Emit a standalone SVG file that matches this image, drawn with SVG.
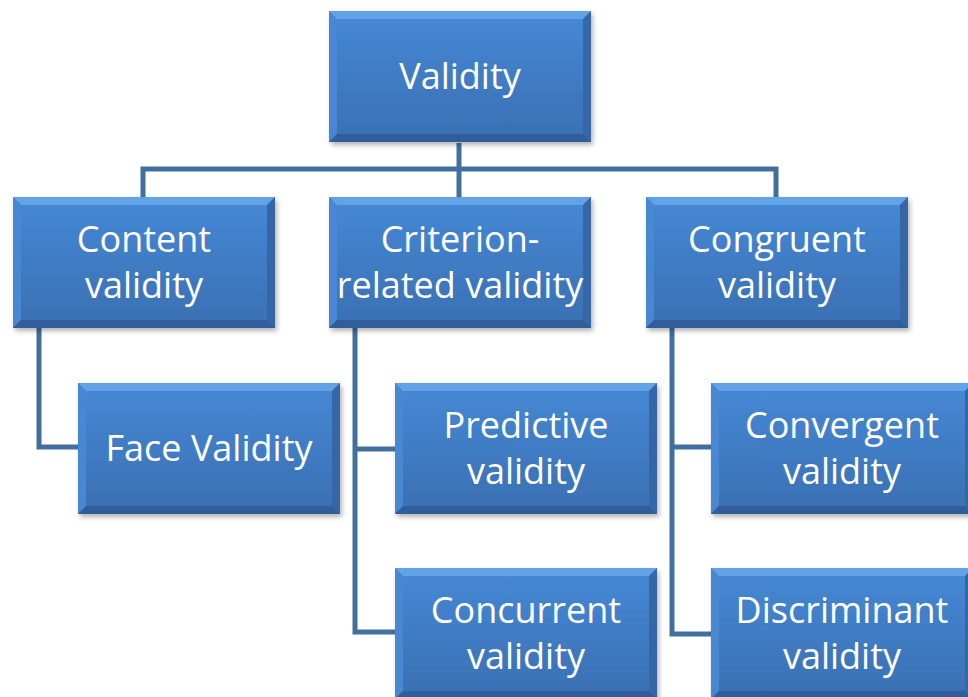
<svg xmlns="http://www.w3.org/2000/svg" xmlns:xlink="http://www.w3.org/1999/xlink" width="968" height="697" viewBox="0 0 968 697">
<style>
.lbl{font-family:"Open Sans","Liberation Sans",Arial,sans-serif;font-size:36px;fill:#ffffff;text-anchor:middle}
.conn{fill:none;stroke:#41709f;stroke-width:5;stroke-linejoin:miter}
</style>
<defs>
<linearGradient id="body" x1="0" y1="0" x2="0" y2="1">
<stop offset="0" stop-color="#4689d6"/>
<stop offset="1" stop-color="#3a6fb2"/>
</linearGradient>
<filter id="sh" x="-10%" y="-10%" width="125%" height="130%">
<feGaussianBlur in="SourceAlpha" stdDeviation="2.5"/>
<feOffset dx="2" dy="3" result="b"/>
<feComponentTransfer><feFuncA type="linear" slope="0.3"/></feComponentTransfer>
<feMerge><feMergeNode/><feMergeNode in="SourceGraphic"/></feMerge>
</filter>
<g id="box">
<rect x="0" y="0" width="262" height="131" fill="url(#body)" filter="url(#sh)"/>
<polygon points="0,0 262,0 254,8 8,8" fill="#62a2e6"/>
<polygon points="0,0 8,8 8,123 0,131" fill="#4888d3"/>
<polygon points="262,0 262,131 254,123 254,8" fill="#3566a6"/>
<polygon points="0,131 262,131 254,123 8,123" fill="#315e9a"/>
</g>
</defs>
<rect width="968" height="697" fill="#ffffff"/>
<g id="connectors">
<path class="conn" d="M143,197 V169 H776 V197"/>
<path class="conn" d="M459,143 V197"/>
<path class="conn" d="M39,328 V447 H78"/>
<path class="conn" d="M355,328 V632 H395"/>
<path class="conn" d="M355,449 H395"/>
<path class="conn" d="M672,328 V634 H711"/>
<path class="conn" d="M672,447 H711"/>
</g>
<g id="validity">
<use xlink:href="#box" href="#box" x="329" y="11"/>
<text class="lbl" x="460" y="89">Validity</text>
</g>
<g id="content-validity">
<use xlink:href="#box" href="#box" x="13" y="197"/>
<text class="lbl" x="144" y="252">Content</text>
<text class="lbl" x="144" y="298">validity</text>
</g>
<g id="criterion-validity">
<use xlink:href="#box" href="#box" x="329" y="197"/>
<text class="lbl" x="460" y="252">Criterion-</text>
<text class="lbl" x="460" y="298">related validity</text>
</g>
<g id="congruent-validity">
<use xlink:href="#box" href="#box" x="646" y="197"/>
<text class="lbl" x="777" y="252">Congruent</text>
<text class="lbl" x="777" y="298">validity</text>
</g>
<g id="face-validity">
<use xlink:href="#box" href="#box" x="78" y="383"/>
<text class="lbl" x="209" y="461">Face Validity</text>
</g>
<g id="predictive-validity">
<use xlink:href="#box" href="#box" x="395" y="383"/>
<text class="lbl" x="526" y="438">Predictive</text>
<text class="lbl" x="526" y="484">validity</text>
</g>
<g id="concurrent-validity">
<use xlink:href="#box" href="#box" x="395" y="568"/>
<text class="lbl" x="526" y="623">Concurrent</text>
<text class="lbl" x="526" y="669">validity</text>
</g>
<g id="convergent-validity">
<use xlink:href="#box" href="#box" x="711" y="383"/>
<text class="lbl" x="842" y="438">Convergent</text>
<text class="lbl" x="842" y="484">validity</text>
</g>
<g id="discriminant-validity">
<use xlink:href="#box" href="#box" x="711" y="568"/>
<text class="lbl" x="842" y="623">Discriminant</text>
<text class="lbl" x="842" y="669">validity</text>
</g>
</svg>
